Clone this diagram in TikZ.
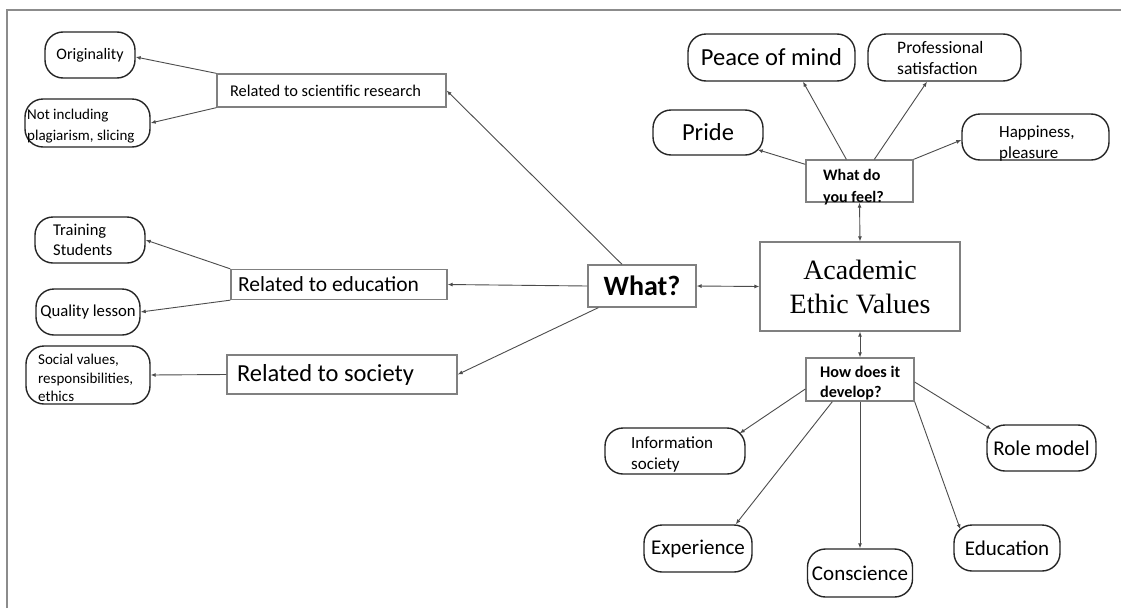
\documentclass[tikz,border=0pt]{standalone}
\usepackage{fontspec}
\setmainfont{Carlito}
\newfontfamily\serifnm{Liberation Serif}
\usetikzlibrary{arrows.meta}
\newcommand\normsp{\spaceskip 0pt\relax\xspaceskip 0pt\relax}
\begin{document}
\begin{tikzpicture}[x=1pt,y=-1pt,
  pill/.style={draw=black!85, line width=1.4pt, rounded corners=18pt, inner sep=0pt},
  rbox/.style={draw=black!50, line width=1.3pt, inner sep=0pt},
  lft/.style={align=left},
  txt/.style={inner sep=0pt, anchor=west, align=left},
  conn/.style={draw=black!70, line width=0.9pt, -{Latex[length=5pt,width=4pt]}},
  conntwo/.style={draw=black!70, line width=0.9pt, {Latex[length=5pt,width=4pt]}-{Latex[length=5pt,width=4pt]}},
]
\useasboundingbox (0,0) rectangle (1121,608);
\fill[white] (0,0) rectangle (1121,608);
\draw[black!45, line width=1.6pt] (7,608) -- (7,10) -- (1121,10);

% left part
\node[pill, minimum width=90pt, minimum height=46pt, font=\fontsize{16}{19}\selectfont] (orig) at (90,55) {Originality};
\node[pill, minimum width=125pt, minimum height=48pt] (notinc) at (87.5,123) {};
\node[txt, font=\fontsize{15}{21}\selectfont] (notinc-t) at (27,126.5) {Not including\\plagiarism, slicing};
\node[rbox, minimum width=229pt, minimum height=33pt, lft, inner xsep=13pt, text width=203pt, font=\fontsize{16.4}{20}\selectfont] (sci) at (331.5,90.5) {\normsp Related to scientific research};

\node[pill, minimum width=110pt, minimum height=46pt] (train) at (90,240) {};
\node[txt, font=\fontsize{16.5}{20}\selectfont] (train-t) at (53,240) {Training\\Students};
\node[pill, minimum width=104pt, minimum height=46pt, font=\fontsize{16.7}{19}\selectfont] (qual) at (88,312) {Quality lesson};
\node[pill, minimum width=124pt, minimum height=58pt] (soc) at (88,375) {};
\node[txt, font=\fontsize{15}{18.5}\selectfont] (soc-t) at (38,378) {Social values,\\responsibilities,\\ethics};

\node[rbox, minimum width=216pt, minimum height=30pt, lft, inner xsep=7pt, text width=202pt, font=\fontsize{21.5}{24}\selectfont] (edu) at (339,284.5) {\normsp Related to education};
\node[rbox, minimum width=230pt, minimum height=39pt, lft, inner xsep=10pt, text width=210pt, font=\fontsize{24.5}{28}\selectfont] (socrel) at (342,374.5) {\normsp Related to society};

% centre
\node[rbox, minimum width=108pt, minimum height=42pt, font=\bfseries\fontsize{28}{30}\selectfont] (what) at (642,286) {What?};
\node[rbox, minimum width=200pt, minimum height=89pt, align=center, font=\serifnm\fontsize{28}{34}\selectfont] (aev) at (860,286.5) {Academic\\Ethic Values};

% top right
\node[rbox, minimum width=107pt, minimum height=42pt] (feel) at (859.5,181) {};
\node[txt, font=\bfseries\fontsize{16}{22}\selectfont] (feel-t) at (823,187.5) {What do\\you feel?};
\node[pill, minimum width=167pt, minimum height=47pt, font=\fontsize{24.5}{27}\selectfont] (peace) at (771.5,57.5) {Peace of mind};
\node[pill, minimum width=153pt, minimum height=47pt] (prof) at (944.5,57.5) {};
\node[txt, font=\fontsize{17.5}{21}\selectfont] (prof-t) at (897,57.5) {Professional\\satisfaction};
\node[pill, minimum width=110pt, minimum height=45pt, font=\fontsize{24.5}{27}\selectfont] (pride) at (708,132.5) {Pride};
\node[pill, minimum width=147pt, minimum height=46pt] (happy) at (1035.5,137) {};
\node[txt, font=\fontsize{17}{21}\selectfont] (happy-t) at (999,143.5) {Happiness,\\pleasure};

% bottom right
\node[rbox, minimum width=108pt, minimum height=43pt] (how) at (860,379.5) {};
\node[txt, font=\bfseries\fontsize{16.2}{20}\selectfont] (how-t) at (820,383.5) {How does it\\develop?};
\node[pill, minimum width=140pt, minimum height=46pt] (info) at (675,451) {};
\node[txt, font=\fontsize{17}{21}\selectfont] (info-t) at (631,454) {Information\\society};
\node[pill, minimum width=109pt, minimum height=46pt, font=\fontsize{21}{24}\selectfont] (role) at (1041.5,448) {Role model};
\node[pill, minimum width=108pt, minimum height=47pt, font=\fontsize{21}{24}\selectfont] (exp) at (698,548.5) {Experience};
\node[pill, minimum width=105pt, minimum height=48pt, font=\fontsize{21}{24}\selectfont] (cons) at (860,573) {Conscience};
\node[pill, minimum width=106pt, minimum height=46pt, font=\fontsize{21}{24}\selectfont] (educ) at (1007,548) {Education};

% connectors
\draw[conn] ([xshift=-20pt]what.north) -- (sci.east);
\draw[conn] (what.west) -- (edu.east);
\draw[conn] ([xshift=11pt]what.south west) -- (socrel.east);
\draw[conntwo] (what.east) -- (aev.west);
\draw[conntwo] (feel.south) -- (aev.north);
\draw[conntwo] (aev.south) -- (how.north);

\draw[conn] ([yshift=-5pt]feel.north west) -- ([xshift=-6pt,yshift=6pt]pride.south east);
\draw[conn] ([xshift=41pt]feel.north west) -- ([xshift=31.5pt]peace.south);
\draw[conn] ([xshift=69pt]feel.north west) -- ([xshift=-17.5pt]prof.south);
\draw[conn] (feel.north east) -- ([yshift=-3pt]happy.west);

\draw[conn] ([yshift=-9.5pt]how.west) -- ([xshift=-6pt,yshift=-6pt]info.north east);
\draw[conn] ([xshift=27pt]how.south west) -- ([xshift=-17pt]exp.north east);
\draw[conn] (how.south) -- (cons.north);
\draw[conn] (how.south east) -- ([xshift=7pt,yshift=-5pt]educ.north west);
\draw[conn] ([yshift=-2.5pt]how.east) -- ([xshift=5pt,yshift=-5pt]role.north west);

\draw[conn] (sci.north west) -- ([yshift=-2pt]orig.east);
\draw[conn] (sci.south west) -- (notinc.east);
\draw[conn] (edu.north west) -- (train.east);
\draw[conn] (edu.south west) -- (qual.east);
\draw[conn] (socrel.west) -- (soc.east);
\end{tikzpicture}
\end{document}
